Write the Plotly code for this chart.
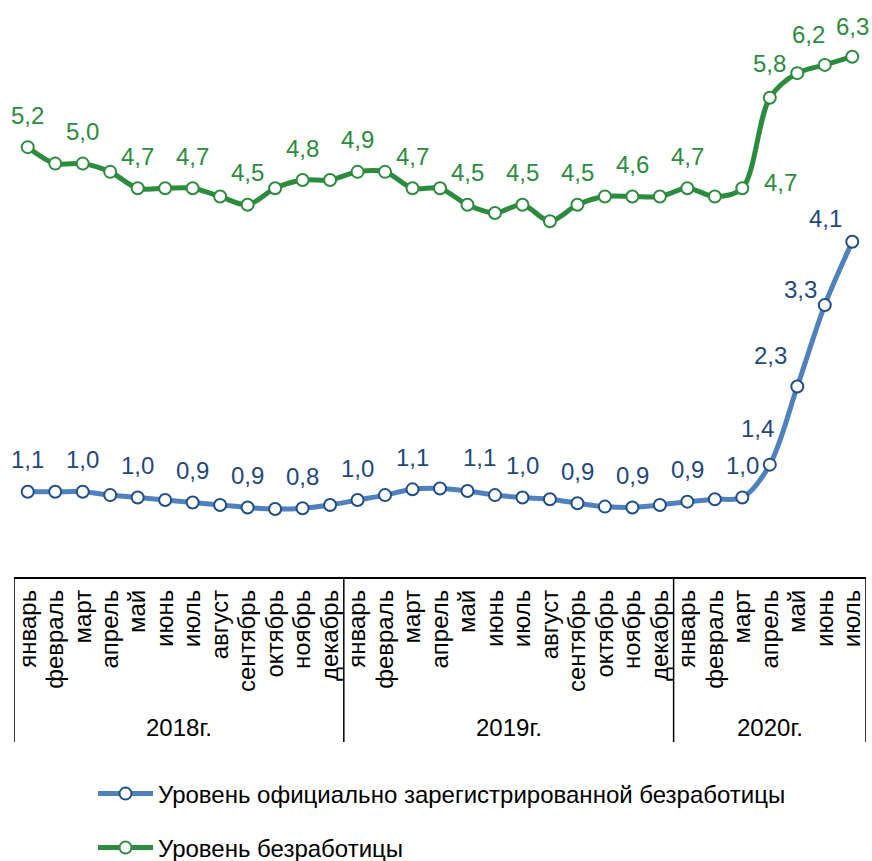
import plotly.graph_objects as go

# ---------------- data ----------------
months = ["январь", "февраль", "март", "апрель", "май", "июнь", "июль",
          "август", "сентябрь", "октябрь", "ноябрь", "декабрь"]
years = ["2018г.", "2019г.", "2020г."]
months_per_year = [12, 12, 7]
month_labels = [m for n in months_per_year for m in months[:n]]

series_names = ["Уровень официально зарегистрированной безработицы",
                "Уровень безработицы"]

registered = [1.01, 1.01, 1.01, 0.97, 0.94, 0.91, 0.88, 0.85, 0.82, 0.80, 0.81, 0.85,
              0.91, 0.97, 1.04, 1.05, 1.02, 0.97, 0.94, 0.92, 0.87, 0.83, 0.82, 0.85,
              0.89, 0.92, 0.94, 1.34, 2.29, 3.28, 4.05]
registered_text = ["1,1", "", "1,0", "", "1,0", "", "0,9", "", "0,9", "", "0,8", "",
                   "1,0", "", "1,1", "", "1,1", "", "1,0", "", "0,9", "", "0,9", "",
                   "0,9", "", "1,0", "1,4", "2,3", "3,3", "4,1"]

unemployment = [5.2, 5.0, 5.0, 4.9, 4.7, 4.7, 4.7, 4.6, 4.5, 4.7, 4.8, 4.8,
                4.9, 4.9, 4.7, 4.7, 4.5, 4.4, 4.5, 4.3, 4.5, 4.6, 4.6, 4.6,
                4.7, 4.6, 4.7, 5.8, 6.1, 6.2, 6.3]
unemployment_text = ["5,2", "", "5,0", "", "4,7", "", "4,7", "", "4,5", "", "4,8", "",
                     "4,9", "", "4,7", "", "4,5", "", "4,5", "", "4,5", "", "4,6", "",
                     "4,7", "", "4,7", "5,8", "", "6,2", "6,3"]

# ---------------- styling ----------------
FONT = "Liberation Sans, Arial, sans-serif"
GREEN = "#2C8C3E"
BLUE_LINE = "#4F81BD"
BLUE_DARK = "#1F4E8C"
BLUE_TEXT = "#1F497D"

W, H = 872, 861
ML, MR, MT, MB = 14, 6, 20, 283
PW, PH = W - ML - MR, H - MT - MB


def py(px):  # pixel y -> paper y
    return (H - MB - px) / PH


def pxx(px):  # pixel x -> paper x
    return (px - ML) / PW


x = list(range(len(month_labels)))

fig = go.Figure()
for vals, name, lc, mc in [(registered, series_names[0], BLUE_LINE, BLUE_DARK),
                           (unemployment, series_names[1], GREEN, GREEN)]:
    fig.add_trace(go.Scatter(
        x=x, y=vals, name=name, mode="lines+markers",
        line=dict(color=lc, width=5, shape="spline", smoothing=0.9),
        marker=dict(size=12, color="white", line=dict(color=mc, width=2)),
        legend="legend" if name == series_names[0] else "legend2",
        hoverinfo="skip",
    ))

# label offsets (pixels): default up above the point
blue_off = {16: (12, 33), 27: (-12, 36), 28: (-27, 31), 29: (-24, 16), 30: (-27, 23)}
green_off = {26: (38, 6), 27: (0, 34), 29: (-16, 30), 30: (0, 30)}

annotations = []
for vals, texts, col, offs in [(registered, registered_text, BLUE_TEXT, blue_off),
                               (unemployment, unemployment_text, GREEN, green_off)]:
    for i, (v, t) in enumerate(zip(vals, texts)):
        if not t:
            continue
        dx, dy = offs.get(i, (0, 32))
        annotations.append(dict(x=i, y=v, xref="x", yref="y", text=t, showarrow=False,
                                xshift=dx, yshift=dy, xanchor="center", yanchor="middle",
                                font=dict(family=FONT, size=24, color=col)))

# year group labels and separators
shapes = []
start = 0
bottom = py(742)
shapes.append(dict(type="line", xref="x", yref="paper", x0=-0.5, x1=len(x) - 0.5,
                   y0=0, y1=0, line=dict(color="black", width=2)))
shapes.append(dict(type="line", xref="x", yref="paper", x0=-0.5, x1=-0.5,
                   y0=0, y1=bottom, line=dict(color="black", width=1.5)))
for yr, n in zip(years, months_per_year):
    center = start + (n - 1) / 2
    annotations.append(dict(x=center, y=py(727), xref="x", yref="paper", text=yr,
                            showarrow=False, xanchor="center", yanchor="middle",
                            font=dict(family=FONT, size=24, color="black")))
    start += n
    shapes.append(dict(type="line", xref="x", yref="paper", x0=start - 0.5, x1=start - 0.5,
                       y0=0, y1=bottom, line=dict(color="black", width=1.5)))

fig.update_layout(
    width=W, height=H,
    margin=dict(l=ML, r=MR, t=MT, b=MB, autoexpand=False),
    paper_bgcolor="white", plot_bgcolor="white",
    font=dict(family=FONT, size=24, color="black"),
    xaxis=dict(range=[-0.5, len(x) - 0.5], tickvals=x, ticktext=month_labels,
               tickangle=-90, tickfont=dict(family=FONT, size=24, color="black"),
               showgrid=False, zeroline=False, showline=False, ticks="",
               ticklabelstandoff=6, automargin=False),
    yaxis=dict(range=[-0.038, 6.746], visible=False, showgrid=False, zeroline=False),
    showlegend=True,
    legend=dict(x=pxx(93), y=py(794), xanchor="left", yanchor="middle",
                font=dict(family=FONT, size=24, color="black"), itemwidth=55,
                bgcolor="rgba(0,0,0,0)"),
    legend2=dict(x=pxx(93), y=py(848), xanchor="left", yanchor="middle",
                 font=dict(family=FONT, size=24, color="black"), itemwidth=55,
                 bgcolor="rgba(0,0,0,0)"),
    annotations=annotations,
    shapes=shapes,
)

fig.write_html("out.html", config={"displayModeBar": False},
               post_script="document.body.style.margin='0';document.body.style.overflow='hidden';")
